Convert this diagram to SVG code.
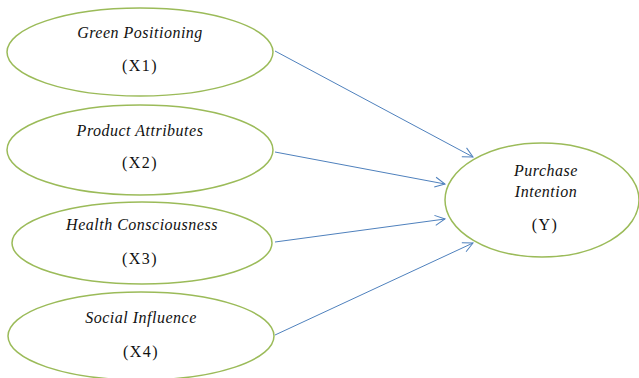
<svg xmlns="http://www.w3.org/2000/svg" width="639" height="378" viewBox="0 0 639 378">
<style>
.node{fill:#fff;stroke:#9bbb59;stroke-width:1.5}
.t{font-family:"Liberation Serif",serif;font-size:16px;fill:#111;text-anchor:middle;letter-spacing:0.5px}
.i{font-style:italic}
.p{letter-spacing:1.5px}
.c{stroke:#4f81bd;stroke-width:1;fill:none;marker-end:url(#ah)}
</style>
<defs>
<marker id="ah" viewBox="0 0 12 12" refX="11" refY="6" markerWidth="12" markerHeight="12" markerUnits="userSpaceOnUse" orient="auto">
<path d="M1,1 L11,6 L1,11" fill="none" stroke="#4f81bd" stroke-width="1"/>
</marker>
</defs>
<rect width="639" height="378" fill="#fff"/>
<g id="connectors">
<line class="c" x1="275" y1="51" x2="473" y2="157"/>
<line class="c" x1="275" y1="152" x2="445" y2="184"/>
<line class="c" x1="275" y1="242" x2="445" y2="219"/>
<line class="c" x1="275" y1="335" x2="473" y2="243"/>
</g>
<g id="x1">
<ellipse class="node" cx="140" cy="52" rx="133" ry="44"/>
<text class="t i" x="140" y="38">Green Positioning</text>
<text class="t p" x="140" y="71">(X1)</text>
</g>
<g id="x2">
<ellipse class="node" cx="140" cy="150" rx="133" ry="45"/>
<text class="t i" x="140" y="136">Product Attributes</text>
<text class="t p" x="140" y="168">(X2)</text>
</g>
<g id="x3">
<ellipse class="node" cx="142" cy="243" rx="130" ry="41"/>
<text class="t i" x="142" y="230">Health Consciousness</text>
<text class="t p" x="140" y="264">(X3)</text>
</g>
<g id="x4">
<ellipse class="node" cx="141" cy="336" rx="133" ry="44"/>
<text class="t i" x="141" y="323">Social Influence</text>
<text class="t p" x="141" y="357">(X4)</text>
</g>
<g id="y">
<ellipse class="node" cx="542" cy="200" rx="97" ry="57"/>
<text class="t i" x="546" y="176">Purchase</text>
<text class="t i" x="546" y="197">Intention</text>
<text class="t p" x="545" y="230">(Y)</text>
</g>
</svg>
